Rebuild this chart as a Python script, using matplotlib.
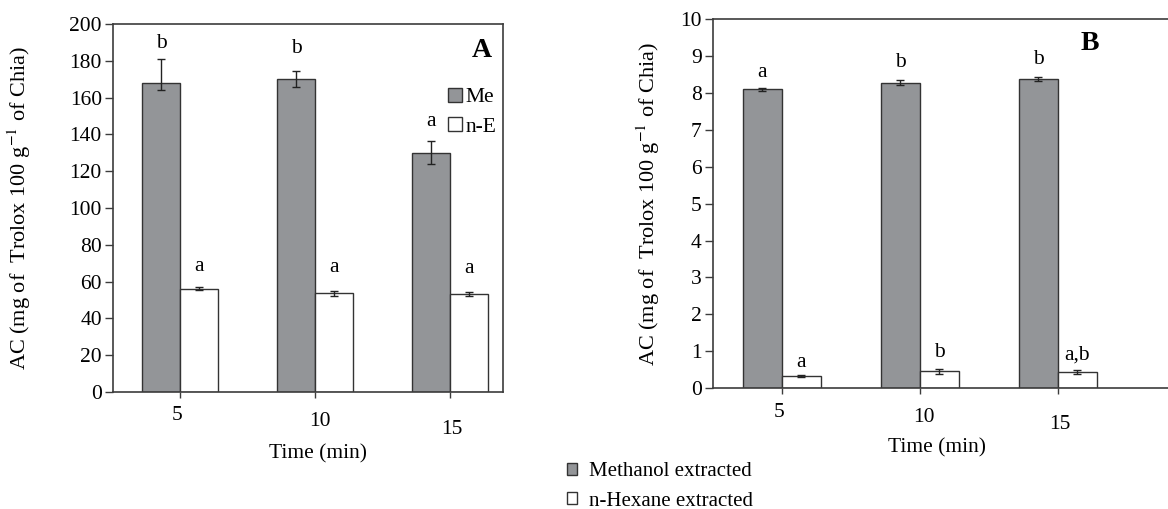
import matplotlib
matplotlib.use("Agg")
import matplotlib.pyplot as plt
from matplotlib.patches import Patch
import numpy as np

plt.rcParams['font.family'] = ['Liberation Serif', 'DejaVu Serif']
plt.rcParams['mathtext.fontset'] = 'stix'

# --- data ---
times = ['5', '10', '15']

# panel A
a_me = [168, 170, 130]
a_me_lo = [4.0, 4.4, 6.3]
a_me_hi = [13.0, 4.5, 6.3]
a_ne = [56.2, 53.6, 53.1]
a_ne_err = [1.0, 1.3, 1.2]
a_me_letters = ['b', 'b', 'a']
a_ne_letters = ['a', 'a', 'a']

# panel B
b_me = [8.10, 8.28, 8.38]
b_me_err = [0.05, 0.06, 0.05]
b_ne = [0.33, 0.45, 0.43]
b_ne_err = [0.02, 0.06, 0.05]
b_me_letters = ['a', 'b', 'b']
b_ne_letters = ['a', 'b', 'a,b']

GRAY = '#939598'
EDGE = '#333333'
SPINE = '#3c3c3c'
FS = 15.5

fig = plt.figure(figsize=(11.68, 5.09), dpi=100)
axA = fig.add_axes([0.0967, 0.2299, 0.334, 0.723])
axB = fig.add_axes([0.6104, 0.2377, 0.391, 0.7244])

def draw_panel(ax, me, me_err, ne, ne_err, me_let, ne_let, ymax, step, width, xlim,
               letter_off, tick_off):
    x = np.arange(len(times))
    ekw = dict(ecolor='#222222', elinewidth=1.0, capsize=3, capthick=1.0)
    ax.bar(x - width / 2, me, width, color=GRAY, edgecolor=EDGE, linewidth=1.0,
           yerr=me_err, error_kw=ekw, zorder=2)
    ax.bar(x + width / 2, ne, width, color='white', edgecolor=EDGE, linewidth=1.0,
           yerr=ne_err, error_kw=ekw, zorder=2)
    me_top = np.array(me) + np.array(me_err if np.ndim(me_err) == 1 else me_err[1])
    ne_top = np.array(ne) + np.array(ne_err)
    for i in range(len(times)):
        ax.annotate(me_let[i], (x[i] - width / 2, me_top[i]), xytext=(0, letter_off[0][i]),
                    textcoords='offset points', ha='center', va='bottom', fontsize=FS)
        ax.annotate(ne_let[i], (x[i] + width / 2, ne_top[i]), xytext=(0, letter_off[1][i]),
                    textcoords='offset points', ha='center', va='bottom', fontsize=FS)
    ax.set_xlim(*xlim)
    ax.set_ylim(0, ymax)
    ax.set_yticks(np.arange(0, ymax + step / 2, step))
    ax.set_xticks(x)
    ax.set_xticklabels([])
    # staggered tick labels as in the original
    for i, (dx, dy) in enumerate(tick_off):
        ax.annotate(times[i], (x[i], 0), xycoords=ax.get_xaxis_transform(),
                    xytext=(dx, -dy), textcoords='offset points',
                    ha='center', va='center', fontsize=FS, annotation_clip=False)
    ax.tick_params(axis='y', direction='out', length=6, width=1, colors=SPINE,
                   labelcolor='black', labelsize=FS, pad=2)
    ax.tick_params(axis='x', direction='out', length=4, width=1, colors=SPINE)
    for s in ax.spines.values():
        s.set_color(SPINE)
        s.set_linewidth(1.2)
    ax.set_ylabel('AC (mg of  Trolox 100 g$^{-1}$ of Chia)', fontsize=FS + 0.5)
    ax.set_xlabel('Time (min)', fontsize=FS)

draw_panel(axA, a_me, [a_me_lo, a_me_hi], a_ne, a_ne_err, a_me_letters, a_ne_letters,
           200, 20, 0.28, (-0.496, 2.393),
           [[4, 9, 7], [8, 10, 10]],
           [(-2, 17), (3.5, 21), (1.5, 27)])
axA.yaxis.set_label_coords(-0.205, 0.5)
axA.xaxis.set_label_coords(0.526, -0.143)
axA.text(0.946, 0.929, 'A', transform=axA.transAxes, ha='center', va='center',
         fontsize=20, fontweight='bold')
axA.legend(handles=[Patch(facecolor=GRAY, edgecolor=EDGE, label='Me'),
                    Patch(facecolor='white', edgecolor=EDGE, label='n-E')],
           loc='upper right', bbox_to_anchor=(1.015, 0.862), frameon=False, fontsize=FS,
           handlelength=0.65, handleheight=0.65, handletextpad=0.15, labelspacing=0.45,
           borderaxespad=0.2)

draw_panel(axB, b_me, b_me_err, b_ne, b_ne_err, b_me_letters, b_ne_letters,
           10, 1, 0.283, (-0.5, 2.81),
           [[4, 6, 6], [2, 5, 4]],
           [(-2, 17.5), (3, 21), (1.5, 26.5)])
axB.yaxis.set_label_coords(-0.112, 0.5)
axB.xaxis.set_label_coords(0.49, -0.135)
axB.spines['right'].set_visible(False)
axB.text(0.825, 0.935, 'B', transform=axB.transAxes, ha='center', va='center',
         fontsize=20, fontweight='bold')

fig.legend(handles=[Patch(facecolor=GRAY, edgecolor=EDGE, label='Methanol extracted'),
                    Patch(facecolor='white', edgecolor=EDGE, label='n-Hexane extracted')],
           loc='upper left', bbox_to_anchor=(0.478, 0.108), frameon=False, fontsize=FS - 0.5,
           handlelength=0.5, handleheight=0.5, handletextpad=0.55, labelspacing=0.5,
           borderaxespad=0.0)

fig.savefig('out.png', dpi=100)
